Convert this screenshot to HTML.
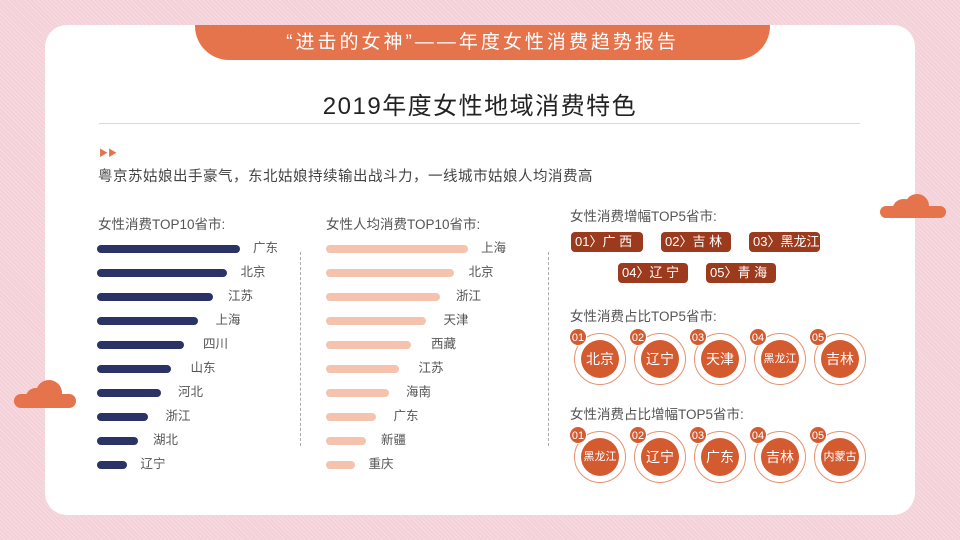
<!DOCTYPE html>
<html><head><meta charset="utf-8"><style>
*{margin:0;padding:0;box-sizing:border-box}
body{width:960px;height:540px;overflow:hidden;position:relative;font-family:"Liberation Sans","Noto Sans CJK SC",sans-serif;
background:#f4d0d8;background-image:repeating-linear-gradient(45deg,rgba(255,255,255,.25) 0 1px,transparent 1px 3px);}
.card{position:absolute;left:45px;top:25px;width:870px;height:490px;background:#fff;border-radius:22px}
.tab{position:absolute;left:195px;top:25px;width:575px;height:35px;background:#e5734c;border-radius:0 0 34px 34px;color:#fff;font-size:19px;letter-spacing:3px;text-align:center;line-height:35px}
.abs{position:absolute;white-space:nowrap}
.bar{position:absolute;height:8px;border-radius:4px}
.lab{position:absolute;font-size:12.5px;color:#555;line-height:14px}
.h{font-size:13.5px;color:#555}
.bd{position:absolute;height:20px;background:#9c3a1d;border-radius:4px;color:#fff;font-size:13px;line-height:20px;padding-left:4px}
.ring{position:absolute;width:52px;height:52px;border:1px solid #e7916f;border-radius:50%}
.inner{position:absolute;left:6px;top:6px;width:38px;height:38px;border-radius:50%;background:#d45a30;color:#fff;text-align:center;line-height:38px;font-size:14px}
.num{position:absolute;left:-6px;top:-6px;width:18px;height:18px;border-radius:50%;background:#d45a30;color:#fff;font-size:11px;line-height:18px;text-align:center;border:1px solid #fff}
.cloud{position:absolute;background:#e5734c;border-radius:50%}
</style></head><body>
<div class="card"></div>
<div class="cloud" style="left:880px;top:206px;width:66px;height:12px;border-radius:6px"></div>
<div class="cloud" style="left:893px;top:199px;width:22px;height:18px"></div>
<div class="cloud" style="left:905px;top:194px;width:24px;height:24px"></div>
<div class="cloud" style="left:14px;top:394px;width:62px;height:14px;border-radius:7px"></div>
<div class="cloud" style="left:26px;top:388px;width:20px;height:18px"></div>
<div class="cloud" style="left:36px;top:380px;width:26px;height:26px"></div>
<div class="tab">“进击的女神”——年度女性消费趋势报告</div>
<div class="abs" style="left:0;width:960px;top:86px;text-align:center;font-size:24px;color:#222;letter-spacing:1.5px">2019年度女性地域消费特色</div>
<div class="abs" style="left:99px;top:123px;width:761px;height:1px;background:#ecd3c7"></div>
<div class="abs" style="left:99px;top:146px;color:#e5734c;font-size:9px">▶▶</div>
<div class="abs" style="left:98px;top:165px;font-size:14.5px;color:#444;letter-spacing:.5px">粤京苏姑娘出手豪气，东北姑娘持续输出战斗力，一线城市姑娘人均消费高</div>
<div class="abs h" style="left:98px;top:213px">女性消费TOP10省市:</div>
<div class="abs h" style="left:326px;top:213px">女性人均消费TOP10省市:</div>
<div class="abs" style="left:300px;top:252px;height:194px;border-left:1px dashed #aaa"></div>
<div class="abs" style="left:548px;top:252px;height:194px;border-left:1px dashed #aaa"></div>
<div id="bars"></div>
<div class="abs h" style="left:570px;top:205px">女性消费增幅TOP5省市:</div>
<div class="bd" style="left:571px;top:232px;width:72px">01〉广 西</div>
<div class="bd" style="left:661px;top:232px;width:70px">02〉吉 林</div>
<div class="bd" style="left:749px;top:232px;width:71px">03〉黑龙江</div>
<div class="bd" style="left:618px;top:263px;width:70px">04〉辽 宁</div>
<div class="bd" style="left:706px;top:263px;width:70px">05〉青 海</div>
<div class="abs h" style="left:570px;top:305px">女性消费占比TOP5省市:</div>
<div class="abs h" style="left:570px;top:403px">女性消费占比增幅TOP5省市:</div>
<div id="circ"></div>
<script>
var L=[["广东",240],["北京",227],["江苏",213],["上海",198],["四川",184],["山东",171],["河北",161],["浙江",148],["湖北",138],["辽宁",127]];
var M=[["上海",468],["北京",454],["浙江",440],["天津",426],["西藏",411],["江苏",399],["海南",389],["广东",376],["新疆",366],["重庆",355]];
var h="";
for(var i=0;i<10;i++){var y=245+24*i;
h+='<div class="bar" style="background:#2b3365;left:97px;top:'+y+'px;width:'+(L[i][1]-97)+'px"></div>';
h+='<div class="lab" style="left:'+(253-12.5*i)+'px;top:'+(y-4)+'px">'+L[i][0]+'</div>';
h+='<div class="bar" style="background:#f5c3ad;left:326px;top:'+y+'px;width:'+(M[i][1]-326)+'px"></div>';
h+='<div class="lab" style="left:'+(481-12.5*i)+'px;top:'+(y-4)+'px">'+M[i][0]+'</div>';}
document.getElementById("bars").innerHTML=h;
var A=["北京","辽宁","天津","黑龙江","吉林"],B=["黑龙江","辽宁","广东","吉林","内蒙古"];var c="";
function row(arr,cy){for(var i=0;i<5;i++){var cx=600+60*i;var fs=arr[i].length>2?11:14;
c+='<div class="ring" style="left:'+(cx-26)+'px;top:'+(cy-26)+'px"><div class="inner" style="font-size:'+fs+'px">'+arr[i]+'</div><div class="num">0'+(i+1)+'</div></div>';}}
row(A,359);row(B,457);
document.getElementById("circ").innerHTML=c;
</script>
</body></html>
